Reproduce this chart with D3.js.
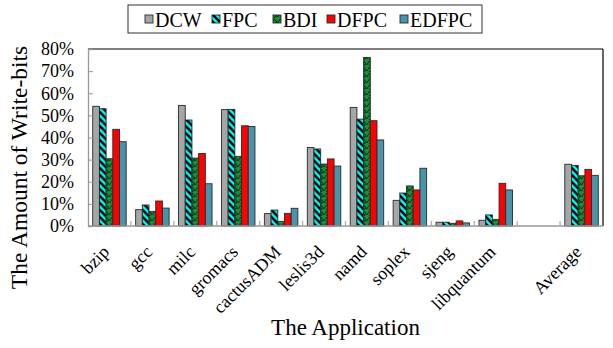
<!DOCTYPE html>
<html>
<head>
<meta charset="utf-8">
<script src="https://cdn.jsdelivr.net/npm/d3@7"></script>
<style>
  html, body { margin: 0; padding: 0; background: #fff; }
  svg text { font-family: "Liberation Serif", "Times New Roman", Times, serif; fill: #000; }
</style>
</head>
<body>
<svg id="chart" width="613" height="348"></svg>
<script>
// Applications (one empty slot separates the average group)
const categories = ["bzip", "gcc", "milc", "gromacs", "cactusADM", "leslis3d",
                    "namd", "soplex", "sjeng", "libquantum", "", "Average"];
const seriesNames = ["DCW", "FPC", "BDI", "DFPC", "EDFPC"];

// Fraction of write-bits, in percent
const dcw   = [54.1, 7.4, 54.5, 52.6, 5.6, 35.5, 53.6, 11.6, 1.7, 2.6, null, 27.9];
const fpc   = [53.0, 9.5, 47.9, 52.7, 7.2, 34.8, 48.3, 14.9, 1.7, 5.0, null, 27.4];
const bdi   = [30.4, 6.6, 30.7, 31.5, 2.1, 28.0, 76.2, 18.1, 1.2, 3.0, null, 22.7];
const dfpc  = [43.7, 11.3, 32.8, 45.3, 5.7, 30.3, 47.6, 16.3, 2.3, 19.3, null, 25.6];
const edfpc = [38.1, 8.1, 19.1, 45.0, 8.0, 27.1, 38.9, 26.1, 1.4, 16.3, null, 22.9];

const yTicks = [0, 10, 20, 30, 40, 50, 60, 70, 80];

const seriesValues = [dcw, fpc, bdi, dfpc, edfpc];
const FONT = "'Liberation Serif', 'Times New Roman', Times, serif";

const svg = d3.select("#chart");
const margin = { left: 88, right: 10, top: 49, bottom: 122 };
const W = 613, H = 348;
const x0 = margin.left, x1 = W - margin.right;
const yTop = margin.top, yBot = H - margin.bottom;

// Fill patterns
const defs = svg.append("defs");
const pFpc = defs.append("pattern").attr("id", "pat-fpc")
  .attr("patternUnits", "userSpaceOnUse").attr("width", 7).attr("height", 7);
pFpc.append("rect").attr("width", 7).attr("height", 7).attr("fill", "#00ffff");
pFpc.append("path").attr("d", "M-2,-2 L9,9 M-2,5 L2,9 M5,-2 L9,2")
  .attr("stroke", "#000").attr("stroke-width", 2.6);

const pBdi = defs.append("pattern").attr("id", "pat-bdi")
  .attr("patternUnits", "userSpaceOnUse").attr("width", 6).attr("height", 6);
pBdi.append("rect").attr("width", 6).attr("height", 6).attr("fill", "#1c8e3c");
pBdi.append("path").attr("d", "M0,3 Q1.5,0 3,3 T6,3 M1,6 L3,4.5")
  .attr("stroke", "#042a0c").attr("stroke-width", 1.1).attr("fill", "none");

const fills = ["#a6a6a6", "url(#pat-fpc)", "url(#pat-bdi)", "#ff0000", "#4794ab"];

const x = d3.scaleBand().domain(d3.range(categories.length))
  .range([x0, x1]).paddingInner(0.22).paddingOuter(0.11);
const xs = d3.scaleBand().domain(seriesNames).range([0, x.bandwidth()]).padding(0);
const y = d3.scaleLinear().domain([0, 80]).range([yBot, yTop]);

// Frame: black top/right, grey axes left/bottom
svg.append("line").attr("x1", x0).attr("x2", x1).attr("y1", yTop).attr("y2", yTop)
  .attr("stroke", "#000").attr("stroke-width", 1.2);
svg.append("line").attr("x1", x1).attr("x2", x1).attr("y1", yTop).attr("y2", yBot)
  .attr("stroke", "#000").attr("stroke-width", 1.2);

// Bars
const groups = svg.append("g").selectAll("g")
  .data(categories.map((c, i) => i)).join("g")
  .attr("transform", i => `translate(${x(i)},0)`);
groups.selectAll("rect")
  .data(i => seriesNames.map((s, k) => ({ s, k, v: seriesValues[k][i] })).filter(d => d.v != null))
  .join("rect")
  .attr("x", d => xs(d.s))
  .attr("y", d => y(d.v))
  .attr("width", xs.bandwidth())
  .attr("height", d => y(0) - y(d.v))
  .attr("fill", d => fills[d.k])
  .attr("stroke", "#2a2a2a")
  .attr("stroke-width", 0.9);

// Y axis with inward ticks
const yAxis = d3.axisLeft(y).tickValues(yTicks).tickSize(-5).tickPadding(14)
  .tickFormat(d => d + "%");
const gy = svg.append("g").attr("transform", `translate(${x0},0)`).call(yAxis)
  .attr("font-family", FONT).attr("font-size", 18);
gy.select(".domain").attr("stroke", "#999").attr("stroke-width", 1.3);
gy.selectAll(".tick line").attr("stroke", "#999");
gy.selectAll(".tick text").style("font-size", "18px").style("font-family", FONT);

// X axis: boundary ticks pointing up, labels rotated
const step = x.step();
const gx = svg.append("g");
gx.append("line").attr("x1", x0).attr("x2", x1).attr("y1", yBot).attr("y2", yBot)
  .attr("stroke", "#999").attr("stroke-width", 1.5);
gx.selectAll("line.tk").data(d3.range(1, categories.length)).join("line")
  .attr("class", "tk")
  .attr("x1", k => x0 + k * step).attr("x2", k => x0 + k * step)
  .attr("y1", yBot).attr("y2", yBot - 5)
  .attr("stroke", "#aaa").attr("stroke-width", 1.2);
gx.selectAll("text").data(categories.map((c, i) => ({ c, i })).filter(d => d.c))
  .join("text")
  .attr("transform", d => `translate(${x(d.i) + x.bandwidth() / 2 + 1},${yBot + 27}) rotate(-45)`)
  .attr("text-anchor", "end")
  .style("font-size", "18px")
  .text(d => d.c);

// Axis titles
svg.append("text")
  .attr("transform", `translate(27,${(yTop + yBot) / 2 + 30}) rotate(-90)`)
  .attr("text-anchor", "middle").style("font-size", "23.5px")
  .text("The Amount of Write-bits");
svg.append("text")
  .attr("x", (x0 + x1) / 2).attr("y", 335)
  .attr("text-anchor", "middle").style("font-size", "23px")
  .text("The Application");

// Legend
const legend = svg.append("g");
legend.append("rect").attr("x", 128).attr("y", 5).attr("width", 354).attr("height", 28)
  .attr("fill", "#fff").attr("stroke", "#333").attr("stroke-width", 1);
const legendX = [145, 212, 273, 327, 400];
const li = legend.selectAll("g").data(seriesNames).join("g")
  .attr("transform", (d, k) => `translate(${legendX[k]},0)`);
li.append("rect").attr("x", 0).attr("y", 15).attr("width", 8).attr("height", 8)
  .attr("fill", (d, k) => fills[k]).attr("stroke", "#2a2a2a").attr("stroke-width", 0.9);
li.append("text").attr("x", 10).attr("y", 27).style("font-size", "20px").text(d => d);
</script>
</body>
</html>
